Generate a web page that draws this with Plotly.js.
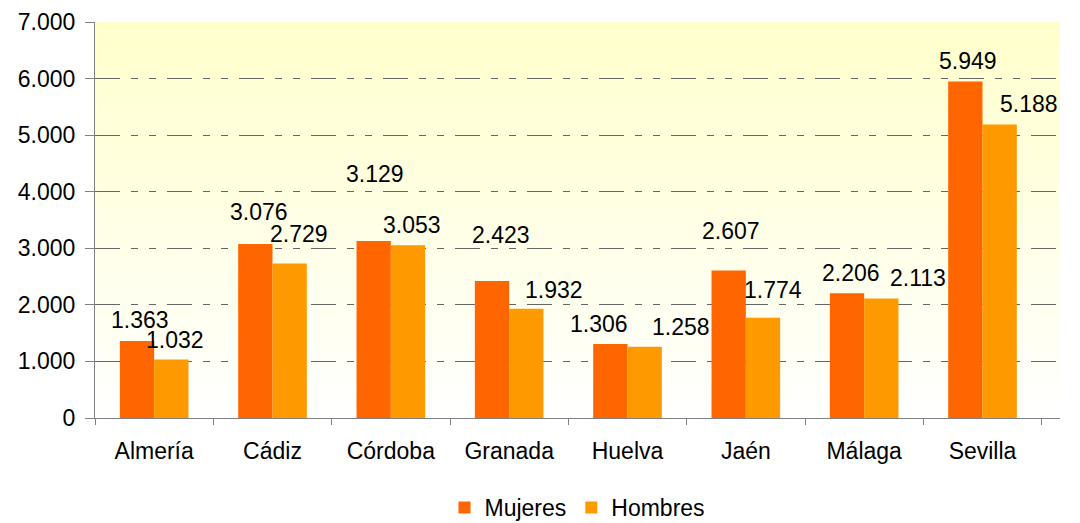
<!DOCTYPE html>
<html>
<head>
<meta charset="utf-8">
<script src="https://cdn.plot.ly/plotly-3.0.1.min.js"></script>
<style>
html, body { margin: 0; padding: 0; background: #fff; }
#chart { width: 1080px; height: 523px; }
</style>
</head>
<body>
<div id="chart"></div>
<script>
// ---- data ----
const provincias = ["Almería", "Cádiz", "Córdoba", "Granada", "Huelva", "Jaén", "Málaga", "Sevilla"];
const mujeres = [1363, 3076, 3129, 2423, 1306, 2607, 2206, 5949];
const hombres = [1032, 2729, 3053, 1932, 1258, 1774, 2113, 5188];
const seriesNames = ["Mujeres", "Hombres"];
const yTicks = [0, 1000, 2000, 3000, 4000, 5000, 6000, 7000];

// label placement quirks seen in the reference (pixels: [dx, lift above bar top])
const nudgeMujeres = [[3, 21], [4, 32], [2, 67], [9, 46], [-11, 20], [3, 40], [4, 20], [3, 20]];
const nudgeHombres = [[3, 20], [9, 30], [4, 20], [27, 19], [36, 20], [10, 28], [36, 20], [29, 21]];

// ---- style ----
const FONT = "Arial, 'Liberation Sans', sans-serif";
const FS = 23;
const colMujeres = "#FF6600";
const colHombres = "#FF9900";
const barHalf = 17.5;

function fmt(v) {
  return String(v).replace(/\B(?=(\d{3})+(?!\d))/g, ".");
}

const traces = [
  { type: "bar", name: seriesNames[0], x: provincias, y: mujeres,
    marker: { color: colMujeres }, hoverinfo: "skip" },
  { type: "bar", name: seriesNames[1], x: provincias, y: hombres,
    marker: { color: colHombres }, hoverinfo: "skip" }
];

const annotations = [];
provincias.forEach((p, i) => {
  annotations.push({
    x: p, y: mujeres[i], xref: "x", yref: "y", text: fmt(mujeres[i]),
    showarrow: false, xanchor: "center", yanchor: "middle",
    xshift: -barHalf + nudgeMujeres[i][0], yshift: nudgeMujeres[i][1],
    font: { family: FONT, size: FS, color: "#000" }
  });
  annotations.push({
    x: p, y: hombres[i], xref: "x", yref: "y", text: fmt(hombres[i]),
    showarrow: false, xanchor: "center", yanchor: "middle",
    xshift: barHalf + nudgeHombres[i][0], yshift: nudgeHombres[i][1],
    font: { family: FONT, size: FS, color: "#000" }
  });
});

const gradSvg = '<svg xmlns="http://www.w3.org/2000/svg" width="100" height="100" preserveAspectRatio="none">' +
  '<defs><linearGradient id="g" x1="0" y1="0" x2="0" y2="1">' +
  '<stop offset="0" stop-color="#FFFFCC"/><stop offset="1" stop-color="#FFFFFF"/>' +
  '</linearGradient></defs><rect width="100" height="100" fill="url(#g)"/></svg>';
const gradUri = "data:image/svg+xml;base64," + btoa(gradSvg);

const layout = {
  width: 1080, height: 523,
  margin: { l: 95, r: 20, t: 22, b: 105, autoexpand: false },
  paper_bgcolor: "#FFFFFF",
  plot_bgcolor: "rgba(0,0,0,0)",
  separators: ",.",
  font: { family: FONT, size: FS, color: "#000" },
  barmode: "group",
  bargap: 0.42,
  bargroupgap: 0,
  showlegend: true,
  legend: {
    orientation: "h", x: 0.5, xanchor: "center", y: -0.226, yanchor: "middle",
    font: { family: FONT, size: FS, color: "#000" },
    itemclick: false, itemdoubleclick: false
  },
  xaxis: {
    type: "category",
    showgrid: false,
    showline: true, linecolor: "#808080", linewidth: 1,
    ticks: "outside", ticklen: 6, tickcolor: "#808080", tickson: "boundaries",
    ticklabelstandoff: 12,
    automargin: false,
    tickfont: { family: FONT, size: FS, color: "#000" },
    fixedrange: true
  },
  yaxis: {
    range: [0, 7000],
    tickvals: yTicks,
    tickformat: ",d",
    showline: true, linecolor: "#808080", linewidth: 1,
    ticks: "outside", ticklen: 9, tickcolor: "#808080",
    showgrid: true, gridcolor: "#666666", gridwidth: 1,
    griddash: "25px,11px,7px,11px,7px,11px",
    zeroline: false,
    ticklabelstandoff: 5,
    automargin: false,
    tickfont: { family: FONT, size: FS, color: "#000" },
    fixedrange: true
  },
  images: [{
    source: gradUri, xref: "paper", yref: "paper",
    x: 0, y: 1, sizex: 1, sizey: 1, xanchor: "left", yanchor: "top",
    sizing: "stretch", layer: "below"
  }],
  annotations: annotations
};

Plotly.newPlot("chart", traces, layout, { displayModeBar: false, staticPlot: true });
</script>
</body>
</html>
